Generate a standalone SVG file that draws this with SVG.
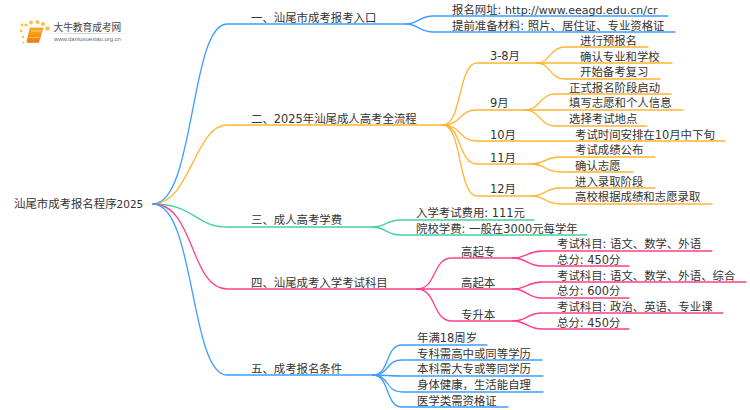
<svg xmlns="http://www.w3.org/2000/svg" width="750" height="410" viewBox="0 0 750 410">
<style>
text{font-family:"DejaVu Sans","Noto Sans CJK SC",sans-serif;font-size:11.4px;fill:#333}
.c path{fill:none;stroke-width:1.3;stroke-linecap:round}
.b{stroke:#3f9dff}.o{stroke:#ffb531}.g{stroke:#44d29c}.p{stroke:#ff3f8c}
.l{font-size:11px}
</style>
<defs><linearGradient id="bk" x1="0" y1="0" x2="0" y2="1"><stop offset="0" stop-color="#ffb020"/><stop offset="1" stop-color="#ee7a10"/></linearGradient>
<linearGradient id="ul" x1="0" y1="0" x2="1" y2="0"><stop offset="0" stop-color="#ccc" stop-opacity="0"/><stop offset=".4" stop-color="#ccc"/><stop offset="1" stop-color="#ccc" stop-opacity="0"/></linearGradient></defs>
<rect width="750" height="410" fill="#fff"/>
<g id="logo">
<g fill="#fbc04a"><circle cx="21" cy="31" r="1.4"/><circle cx="23" cy="37" r="1.2"/><circle cx="22" cy="25" r="1.4"/><circle cx="26" cy="25" r="1.6"/><circle cx="31" cy="22.500" r="2"/><circle cx="37.500" cy="22" r="2"/><circle cx="43" cy="24" r="2"/><circle cx="47.500" cy="28.500" r="2.200"/><circle cx="23.500" cy="42.500" r="1"/></g>
<path d="M30 28H43L39 41.500Q39 42.500 38 42.500H28Q26.500 42.500 27 41Z" fill="url(#bk)" stroke="#e8861a" stroke-width=".6"/>
<path d="M29.500 37.500H39.500M31 31H41" fill="none" stroke="#ffd98a" stroke-width=".7"/>
<rect x="46" y="33" width="88" height="1" fill="url(#ul)"/>
<text x="53.500" y="31" style="font-size:9.700px;fill:#444;font-family:'Noto Sans CJK SC',sans-serif">大牛教育成考网</text>
<text x="54" y="41" style="font-size:5.900px;fill:#666;font-family:'Liberation Sans',sans-serif">www.daniuxuexiao.org.cn</text>
</g>
<g id="connectors" class="c">
<path class="b" d="M153 204C195 204 190 24 227 24H407"/>
<path class="b" d="M407 24C417 24 420 16 433 16H668"/>
<path class="b" d="M407 24C417 24 420 32 433 32H675"/>
<path class="o" d="M153 204C190 204 195 125 227 125H443"/>
<path class="o" d="M443 125C462 125 458 63 477 63H537"/>
<path class="o" d="M443 125C462 125 458 110 477 110H525"/>
<path class="o" d="M443 125C462 125 458 141 477 141H725"/>
<path class="o" d="M443 125C462 125 458 164 477 164H532"/>
<path class="o" d="M443 125C462 125 458 196 477 196H532"/>
<path class="o" d="M537 63C550 63 550 47 565 47H648"/>
<path class="o" d="M537 63H672"/>
<path class="o" d="M537 63C550 63 550 79 565 79H660"/>
<path class="o" d="M525 110C540 110 540 94 555 94H671"/>
<path class="o" d="M525 110H683"/>
<path class="o" d="M525 110C540 110 540 126 555 126H647"/>
<path class="o" d="M532 164C545 164 545 157 560 157H655"/>
<path class="o" d="M532 164C545 164 545 172 560 172H633"/>
<path class="o" d="M532 196C545 196 545 188 560 188H655"/>
<path class="o" d="M532 196C545 196 545 204 560 204H712"/>
<path class="g" d="M153 204C195 204 195 227 227 227H373"/>
<path class="g" d="M373 227C385 227 387 220 400 220H534"/>
<path class="g" d="M373 227C385 227 387 235 400 235H587"/>
<path class="p" d="M153 204C195 204 190 289 227 289H417"/>
<path class="p" d="M417 289C437 289 432 258 452 258H513"/>
<path class="p" d="M417 289H513"/>
<path class="p" d="M417 289C437 289 432 321 452 321H513"/>
<path class="p" d="M513 258C527 258 527 251 542 251H712"/>
<path class="p" d="M513 258C527 258 527 266 542 266H629"/>
<path class="p" d="M513 289C527 289 527 282 542 282H746"/>
<path class="p" d="M513 289C527 289 527 298 542 298H629"/>
<path class="p" d="M513 321C527 321 527 313 542 313H723"/>
<path class="p" d="M513 321C527 321 527 329 542 329H629"/>
<path class="b" d="M153 204C195 204 190 375 227 375H373"/>
<path class="b" d="M373 375C390 375 385 345 402 345H487"/>
<path class="b" d="M373 375C390 375 385 360 402 360H542"/>
<path class="b" d="M373 375C390 375 385 376 402 376H543"/>
<path class="b" d="M373 375C390 375 385 392 402 392H543"/>
<path class="b" d="M373 375C390 375 385 407 402 407H508"/>
</g>
<g id="root"><text x="14" y="208">汕尾市成考报名程序<tspan style="font-size:10.500px">2025</tspan></text></g>
<g id="n1"><text x="251" y="22">一、汕尾市成考报考入口</text></g>
<g id="n1a"><text x="452" y="14">报名网址: <tspan class="l">http://www.eeagd.edu.cn/cr</tspan></text></g>
<g id="n1b"><text x="452" y="30">提前准备材料: 照片、居住证、专业资格证</text></g>
<g id="n2"><text x="251" y="123">二、2025年汕尾成人高考全流程</text></g>
<g id="n2a"><text x="490" y="60">3-8月</text></g>
<g id="n2a1"><text x="580" y="45">进行预报名</text></g>
<g id="n2a2"><text x="580" y="61">确认专业和学校</text></g>
<g id="n2a3"><text x="580" y="76">开始备考复习</text></g>
<g id="n2b"><text x="490" y="107">9月</text></g>
<g id="n2b1"><text x="569" y="92">正式报名阶段启动</text></g>
<g id="n2b2"><text x="569" y="107">填写志愿和个人信息</text></g>
<g id="n2b3"><text x="569" y="123">选择考试地点</text></g>
<g id="n2c"><text x="490" y="139">10月</text></g>
<g id="n2c1"><text x="575" y="139">考试时间安排在10月中下旬</text></g>
<g id="n2d"><text x="490" y="162">11月</text></g>
<g id="n2d1"><text x="575" y="154">考试成绩公布</text></g>
<g id="n2d2"><text x="575" y="170">确认志愿</text></g>
<g id="n2e"><text x="490" y="193">12月</text></g>
<g id="n2e1"><text x="575" y="186">进入录取阶段</text></g>
<g id="n2e2"><text x="575" y="201">高校根据成绩和志愿录取</text></g>
<g id="n3"><text x="251" y="224">三、成人高考学费</text></g>
<g id="n3a"><text x="416" y="217">入学考试费用: 111元</text></g>
<g id="n3b"><text x="416" y="233">院校学费: 一般在3000元每学年</text></g>
<g id="n4"><text x="251" y="287">四、汕尾成考入学考试科目</text></g>
<g id="n4a"><text x="461" y="256">高起专</text></g>
<g id="n4a1"><text x="557" y="248">考试科目: 语文、数学、外语</text></g>
<g id="n4a2"><text x="557" y="264">总分: 450分</text></g>
<g id="n4b"><text x="461" y="287">高起本</text></g>
<g id="n4b1"><text x="557" y="280">考试科目: 语文、数学、外语、综合</text></g>
<g id="n4b2"><text x="557" y="295">总分: 600分</text></g>
<g id="n4c"><text x="461" y="319">专升本</text></g>
<g id="n4c1"><text x="557" y="311">考试科目: 政治、英语、专业课</text></g>
<g id="n4c2"><text x="557" y="327">总分: 450分</text></g>
<g id="n5"><text x="251" y="373">五、成考报名条件</text></g>
<g id="n5a"><text x="417" y="342">年满18周岁</text></g>
<g id="n5b"><text x="417" y="358">专科需高中或同等学历</text></g>
<g id="n5c"><text x="417" y="373">本科需大专或等同学历</text></g>
<g id="n5d"><text x="417" y="389">身体健康，生活能自理</text></g>
<g id="n5e"><text x="417" y="405">医学类需资格证</text></g>
</svg>
